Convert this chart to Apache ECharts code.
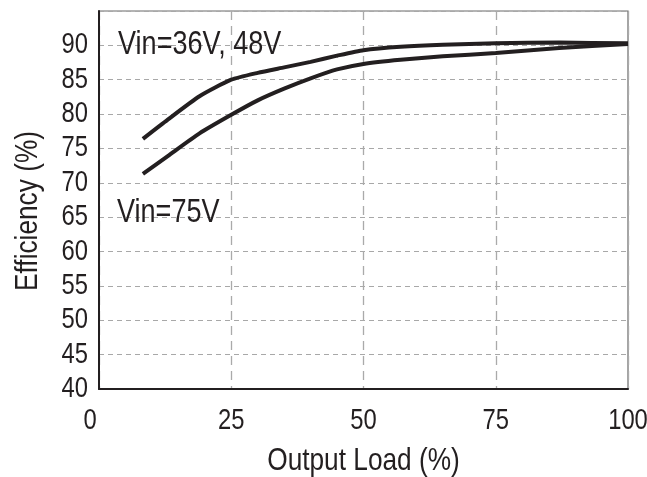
<!DOCTYPE html>
<html>
<head>
<meta charset="utf-8">
<script src="https://cdn.jsdelivr.net/npm/echarts@6/dist/echarts.min.js"></script>
<style>
html,body{margin:0;padding:0;background:#fff;}
#chart{width:647px;height:477px;}
</style>
</head>
<body>
<div id="chart"></div>
<script>
// Data
var loadPct = [8.3, 13, 19, 25, 30, 35, 40, 45, 50, 57, 65, 75, 87, 100];
var effVin36_48 = [76.4, 79.2, 82.6, 85.0, 86.0, 86.8, 87.6, 88.5, 89.3, 89.8, 90.1, 90.3, 90.4, 90.3];
var effVin75 = [71.3, 73.9, 77.2, 79.9, 82.0, 83.7, 85.2, 86.5, 87.3, 87.9, 88.4, 88.9, 89.6, 90.2];
var seriesNames = ['Vin=36V, 48V', 'Vin=75V'];
var annotationCoords = [[3.6, 90.0], [3.4, 65.6]];
var xTicks = [0, 25, 50, 75, 100];
var yTicks = [40, 45, 50, 55, 60, 65, 70, 75, 80, 85, 90];
var xTitle = 'Output Load (%)';
var yTitle = 'Efficiency (%)';

var FAMILY = '"Liberation Sans", Arial, sans-serif';
var SQUEEZE = 0.82; // condensed look
var INK = '#231f20';

function pairs(xs, ys) { return xs.map(function (x, i) { return [x, ys[i]]; }); }

function lineSeries(name, ys) {
  return {
    name: name,
    type: 'line',
    data: pairs(loadPct, ys),
    showSymbol: false,
    smooth: 0.2,
    lineStyle: { color: INK, width: 4 },
    z: 5
  };
}

var chart = echarts.init(document.getElementById('chart'), null, { renderer: 'canvas' });
chart.setOption({
  animation: false,
  backgroundColor: '#fff',
  grid: {
    left: 99, right: 19, top: 11, bottom: 88,
    show: true, borderColor: '#6a6a6a', borderWidth: 1.2, backgroundColor: 'transparent'
  },
  xAxis: {
    type: 'value',
    min: xTicks[0], max: xTicks[xTicks.length - 1], interval: 25,
    axisLine: { show: true, lineStyle: { color: INK, width: 2 } },
    axisTick: { show: false },
    axisLabel: { show: false },
    splitLine: { show: true, lineStyle: { color: '#aaaaaa', width: 1.3, type: [9, 6] } }
  },
  yAxis: {
    type: 'value',
    min: 40, max: 95, interval: 5,
    axisLine: { show: true, lineStyle: { color: INK, width: 2 } },
    axisTick: { show: false },
    axisLabel: { show: false },
    splitLine: { show: true, lineStyle: { color: '#a8a8a8', width: 1.2, type: [5, 4] } }
  },
  series: [
    lineSeries(seriesNames[0], effVin36_48),
    lineSeries(seriesNames[1], effVin75)
  ]
});

// Text drawn as condensed real text, positioned through the chart's own scales
function toPx(x, y) { return chart.convertToPixel({ gridIndex: 0 }, [x, y]); }
function txt(str, x, y, size, align, rotation) {
  return {
    type: 'text', x: x, y: y, rotation: rotation || 0,
    scaleX: SQUEEZE, scaleY: 1, silent: true, z: 10,
    style: {
      text: str, fill: INK,
      font: size + 'px ' + FAMILY,
      align: align, verticalAlign: 'middle'
    }
  };
}
var els = [];
var origin = toPx(0, 40);
var topRight = toPx(100, 95);
yTicks.forEach(function (v) {
  var p = toPx(0, v);
  els.push(txt(String(v), p[0] - 11, p[1], 29, 'right'));
});
xTicks.forEach(function (v, i) {
  var p = toPx(v, 40);
  els.push(txt(String(v), p[0] - (i === 0 ? 9 : 0), p[1] + 32, 29, 'center'));
});
els.push(txt(xTitle, (origin[0] + topRight[0]) / 2, origin[1] + 72, 32, 'center'));
els.push(txt(yTitle, origin[0] - 71, (origin[1] + topRight[1]) / 2 + 11, 32, 'center', Math.PI / 2));
seriesNames.forEach(function (n, i) {
  var p = toPx(annotationCoords[i][0], annotationCoords[i][1]);
  els.push(txt(n, p[0], p[1], 33, 'left'));
});
chart.setOption({ graphic: { elements: els } });
</script>
</body>
</html>
